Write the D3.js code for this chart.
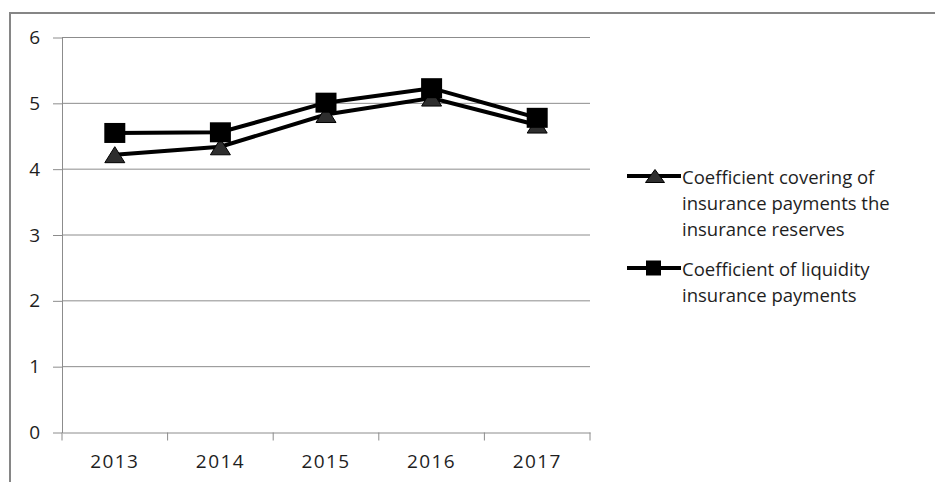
<!DOCTYPE html>
<html>
<head>
<meta charset="utf-8">
<script src="https://cdn.jsdelivr.net/npm/d3@7"></script>
<style>
  html, body { margin: 0; padding: 0; background: #fff; }
  svg text { font-family: "Open Sans", "Liberation Sans", sans-serif; fill: #1e1e1e; }
</style>
</head>
<body>
<svg id="chart" width="935" height="482"></svg>
<script>
const years = ["2013", "2014", "2015", "2016", "2017"];
const coveringValues = [4.22, 4.34, 4.83, 5.08, 4.67];
const liquidityValues = [4.55, 4.56, 5.01, 5.23, 4.78];
const yTicks = [0, 1, 2, 3, 4, 5, 6];
const legendCovering = ["Coefficient covering of", "insurance payments the", "insurance reserves"];
const legendLiquidity = ["Coefficient of liquidity", "insurance payments"];

const svg = d3.select("#chart");
const plot = { left: 62, right: 590, top: 37.5, bottom: 432.5 };

// outer chart frame (runs off the right and bottom edges)
svg.append("rect")
  .attr("x", 10).attr("y", 13).attr("width", 960).attr("height", 520)
  .attr("fill", "none").attr("stroke", "#868686").attr("stroke-width", 2);

const x = d3.scaleBand().domain(years).range([plot.left, plot.right]);
const y = d3.scaleLinear().domain([0, 6]).range([plot.bottom, plot.top]);

/* ---------- gridlines ---------- */
svg.append("g").selectAll("line")
  .data(yTicks.filter(d => d > 0))
  .join("line")
  .attr("x1", plot.left).attr("x2", plot.right)
  .attr("y1", d => y(d)).attr("y2", d => y(d))
  .attr("stroke", "#8c8c8c").attr("stroke-width", 1);

/* ---------- axes ---------- */
const yAxis = d3.axisLeft(y).tickValues(yTicks).tickFormat(d3.format("d"))
  .tickSize(9).tickPadding(13).tickSizeOuter(0);
const yG = svg.append("g").attr("transform", `translate(${plot.left},0)`).call(yAxis);
yG.select(".domain").attr("stroke", "#8c8c8c");
yG.selectAll(".tick line").attr("stroke", "#8c8c8c");
yG.selectAll("text").style("font-size", "19px").attr("fill", "#1e1e1e");

const xAxis = d3.axisBottom(x).tickSize(0).tickPadding(22);
const xG = svg.append("g").attr("transform", `translate(0,${plot.bottom})`).call(xAxis);
xG.select(".domain").attr("stroke", "#8c8c8c");
xG.selectAll("text").style("font-size", "19px").style("letter-spacing", "1.4px").attr("fill", "#1e1e1e");
// category boundary ticks
xG.append("g").selectAll("line")
  .data(years.map(d => x(d)).concat([plot.right]))
  .join("line")
  .attr("x1", d => d).attr("x2", d => d).attr("y1", 0).attr("y2", 8)
  .attr("stroke", "#8c8c8c");

const cx = d => x(d) + x.bandwidth() / 2;
const line = d3.line().x(d => cx(d.year)).y(d => y(d.v));

const coveringData = years.map((year, i) => ({ year, v: coveringValues[i] }));
const liquidityData = years.map((year, i) => ({ year, v: liquidityValues[i] }));

// triangle marker centred on its bounding box
const triPath = (w, h) => `M0,${-h / 2}L${w / 2},${h / 2}L${-w / 2},${h / 2}Z`;

/* ---------- series lines & markers ---------- */
svg.append("path").datum(coveringData)
  .attr("d", line).attr("fill", "none").attr("stroke", "#000").attr("stroke-width", 4);
svg.append("g").selectAll("path")
  .data(coveringData).join("path")
  .attr("d", triPath(20, 16))
  .attr("transform", d => `translate(${cx(d.year)},${y(d.v)})`)
  .attr("fill", "#2e2e2e").attr("stroke", "#000").attr("stroke-width", 1);

svg.append("path").datum(liquidityData)
  .attr("d", line).attr("fill", "none").attr("stroke", "#000").attr("stroke-width", 4);
svg.append("g").selectAll("rect")
  .data(liquidityData).join("rect")
  .attr("x", d => cx(d.year) - 10.5).attr("y", d => y(d.v) - 10)
  .attr("width", 21).attr("height", 20)
  .attr("fill", "#000");

/* ---------- legend ---------- */
const legend = svg.append("g");
function legendItem(lines, top, marker) {
  legend.append("line")
    .attr("x1", 627).attr("x2", 681).attr("y1", top).attr("y2", top)
    .attr("stroke", "#000").attr("stroke-width", 4);
  if (marker === "tri") {
    legend.append("path").attr("d", triPath(19, 13))
      .attr("transform", `translate(655,${top})`)
      .attr("fill", "#2e2e2e").attr("stroke", "#000");
  } else {
    legend.append("rect").attr("x", 646).attr("y", top - 7.5)
      .attr("width", 15).attr("height", 15).attr("fill", "#000");
  }
  const t = legend.append("text").attr("x", 682).attr("y", top + 7.5).style("font-size", "18.5px");
  lines.forEach((s, i) => t.append("tspan").attr("x", 682).attr("dy", i === 0 ? 0 : 26).text(s));
}
legendItem(legendCovering, 176, "tri");
legendItem(legendLiquidity, 268, "sq");
</script>
</body>
</html>
